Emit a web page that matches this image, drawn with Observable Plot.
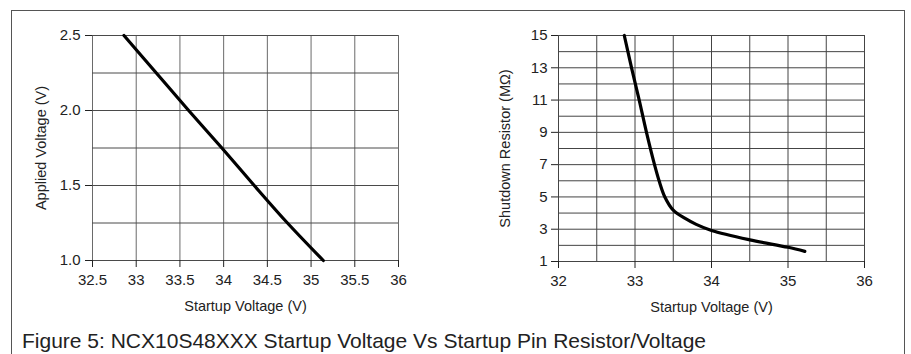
<!DOCTYPE html>
<html>
<head>
<meta charset="utf-8">
<script src="https://cdn.jsdelivr.net/npm/d3@7"></script>
<script src="https://cdn.jsdelivr.net/npm/@observablehq/plot@0.6"></script>
<style>
  html, body { margin: 0; padding: 0; background: #fff; }
  #wrap { position: relative; width: 911px; height: 354px; overflow: hidden; background: #fff; }
  #frame { position: absolute; left: 11px; top: 10px; width: 892px; height: 400px; border: 1.5px solid #555; }
  .chart { position: absolute; top: 0; }
  .chart svg g[aria-label$="tick label"] text { font-size: 15px; }
  .chart svg g[aria-label$="axis label"] text { font-size: 14.5px; }
  #caption { position: absolute; left: 22px; top: 329px; font-family: "Liberation Sans", sans-serif; font-size: 21px; color: #222; white-space: nowrap; }
</style>
</head>
<body>
<div id="wrap">
  <div id="frame"></div>
  <div id="left" class="chart" style="left:0px"></div>
  <div id="right" class="chart" style="left:460px"></div>
  <div id="caption"></div>
</div>
<script>
// Left chart: Applied Voltage vs Startup Voltage
const leftStartup = [32.86, 33.23, 33.6, 33.98, 34.35, 34.73, 35.14];
const leftApplied = [2.5, 2.25, 2.0, 1.75, 1.5, 1.25, 1.0];
const leftXTicks = [32.5, 33, 33.5, 34, 34.5, 35, 35.5, 36];
const leftYTicks = [1.0, 1.5, 2.0, 2.5];
const leftYGrid = [1.0, 1.25, 1.5, 1.75, 2.0, 2.25, 2.5];

// Right chart: Shutdown Resistor vs Startup Voltage
const rightStartup = [32.86, 32.955, 33.055, 33.15, 33.255, 33.315, 33.39, 33.5, 33.65, 33.8, 34.0, 34.5, 35.0, 35.22];
const rightResistor = [15, 13, 11, 9, 7, 6, 5, 4.18, 3.68, 3.3, 2.92, 2.34, 1.88, 1.63];
const rightXTicks = [32, 33, 34, 35, 36];
const rightXGrid = [32, 32.5, 33, 33.5, 34, 34.5, 35, 35.5, 36];
const rightYTicks = [1, 3, 5, 7, 9, 11, 13, 15];
const rightYGrid = [1, 2, 3, 4, 5, 6, 7, 8, 9, 10, 11, 12, 13, 14, 15];

const captionText = "Figure 5: NCX10S48XXX Startup Voltage Vs Startup Pin Resistor/Voltage";

const font = "'Liberation Sans', sans-serif";

const leftData = leftStartup.map((x, i) => ({x, y: leftApplied[i]}));
const rightData = rightStartup.map((x, i) => ({x, y: rightResistor[i]}));

const left = Plot.plot({
  width: 460, height: 320,
  marginLeft: 92, marginRight: 62, marginTop: 35, marginBottom: 60,
  style: {fontFamily: font, fontSize: "14px", color: "#222", background: "transparent", overflow: "visible"},
  x: {domain: [32.5, 36]},
  y: {domain: [1.0, 2.5]},
  marks: [
    Plot.gridX(leftXTicks, {stroke: "#6a6a6a", strokeOpacity: 1}),
    Plot.gridY(leftYGrid, {stroke: "#4a4a4a", strokeOpacity: 1}),
    Plot.axisX(leftXTicks, {tickSize: 7, tickPadding: 7, tickFormat: d => String(d), label: "Startup Voltage (V)", labelAnchor: "center", labelArrow: "none", labelOffset: 50}),
    Plot.axisY(leftYTicks, {tickSize: 7, tickPadding: 5, tickFormat: d3.format(".1f"), label: "Applied Voltage (V)", labelAnchor: "center", labelArrow: "none", labelOffset: 57}),
    Plot.line(leftData, {x: "x", y: "y", stroke: "#000", strokeWidth: 3.2, curve: "catmull-rom"})
  ]
});
document.getElementById("left").append(left);

const right = Plot.plot({
  width: 451, height: 320,
  marginLeft: 98, marginRight: 47, marginTop: 35, marginBottom: 59,
  style: {fontFamily: font, fontSize: "14px", color: "#222", background: "transparent", overflow: "visible"},
  x: {domain: [32, 36]},
  y: {domain: [1, 15]},
  marks: [
    Plot.gridX(rightXGrid, {stroke: "#444", strokeOpacity: 1}),
    Plot.gridY(rightYGrid, {stroke: "#444", strokeOpacity: 1}),
    Plot.axisX(rightXTicks, {tickSize: 7, tickPadding: 7, tickFormat: d => String(d), label: "Startup Voltage (V)", labelAnchor: "center", labelArrow: "none", labelOffset: 50}),
    Plot.axisY(rightYTicks, {tickSize: 7, tickPadding: 4, tickFormat: d => String(d), label: "Shutdown Resistor (MΩ)", labelAnchor: "center", labelArrow: "none", labelOffset: 59}),
    Plot.line(rightData, {x: "x", y: "y", stroke: "#000", strokeWidth: 3.2, curve: "catmull-rom"})
  ]
});
document.getElementById("right").append(right);

document.getElementById("caption").textContent = captionText;
</script>
</body>
</html>
